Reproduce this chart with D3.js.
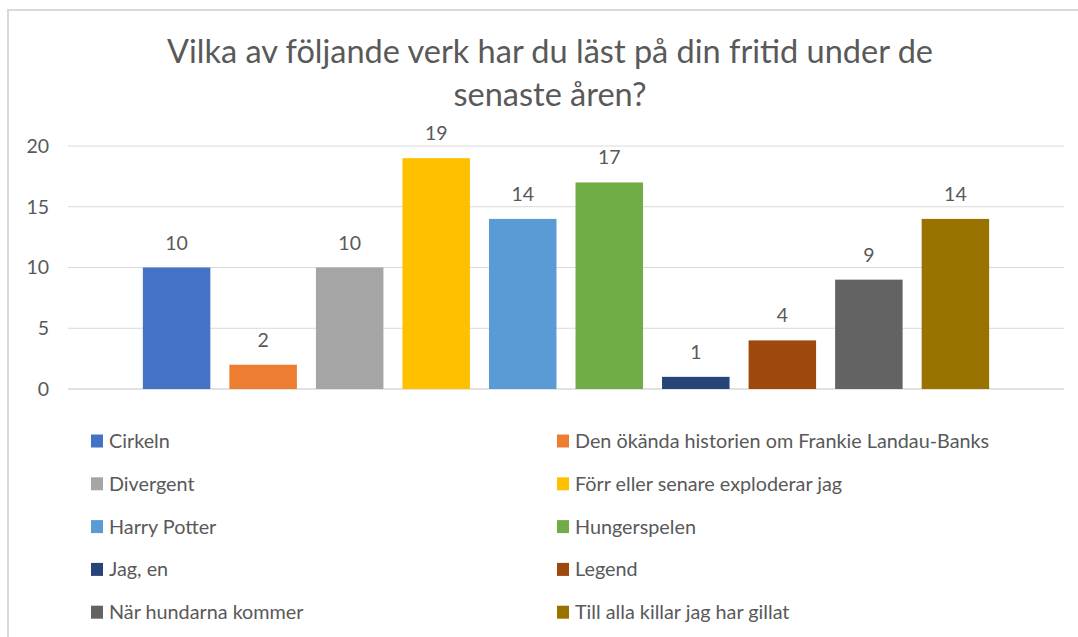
<!doctype html>
<html>
<head>
<meta charset="utf-8">
<script src="https://cdnjs.cloudflare.com/ajax/libs/d3/7.8.5/d3.min.js"></script>
<style>
    body { margin: 0; background: white; }
    svg text { font-family: Lato, "Open Sans", sans-serif; fill: #595959; }
</style>
</head>
<body>
<svg id="chart" width="1078" height="637"></svg>
<script>
// data
var titleLines = ["Vilka av följande verk har du läst på din fritid under de", "senaste åren?"];
var books = ["Cirkeln", "Den ökända historien om Frankie Landau-Banks", "Divergent",
             "Förr eller senare exploderar jag", "Harry Potter", "Hungerspelen",
             "Jag, en", "Legend", "När hundarna kommer", "Till alla killar jag har gillat"];
var counts = [10, 2, 10, 19, 14, 17, 1, 4, 9, 14];
var colors = ["#4472C4", "#ED7D31", "#A5A5A5", "#FFC000", "#5B9BD5",
              "#70AD47", "#264478", "#9E480E", "#636363", "#997300"];
var yTicks = [0, 5, 10, 15, 20];

var svg = d3.select('#chart');

// outer frame of the chart area
svg.append('rect')
    .attr('x', 8).attr('y', 10)
    .attr('width', 1100).attr('height', 700)
    .attr('fill', 'white')
    .attr('stroke', '#d9d9d9')
    .attr('stroke-width', 2);

// title
svg.append('g').selectAll('text')
    .data(titleLines)
    .enter().append('text')
    .attr('x', 550)
    .attr('y', (d, i) => 63 + i * 43)
    .attr('text-anchor', 'middle')
    .style('font-size', '32.5px')
    .text(d => d);

var plotLeft = 68, plotRight = 1064;

var y = d3.scaleLinear().domain([0, 20]).range([389, 146]);

var x = d3.scaleBand()
    .domain(books)
    .range([plotLeft, plotRight])
    .paddingInner(0.22)
    .paddingOuter(0.865);

// gridlines
svg.append('g')
    .selectAll('line')
    .data(yTicks)
    .enter().append('line')
    .attr('x1', plotLeft).attr('x2', plotRight)
    .attr('y1', d => y(d)).attr('y2', d => y(d))
    .attr('stroke', '#d9d9d9')
    .attr('stroke-width', d => d === 0 ? 1.5 : 1);

// y axis labels
var yAxis = d3.axisLeft(y).tickValues(yTicks).tickSize(0).tickPadding(0);
var yg = svg.append('g')
    .attr('transform', 'translate(49,0)')
    .call(yAxis);
yg.select('.domain').remove();
yg.selectAll('text')
    .style('font-size', '19.5px')
    .style('font-family', 'Lato, sans-serif')
    .attr('fill', '#595959');

// bars
svg.append('g')
    .selectAll('rect')
    .data(books)
    .enter().append('rect')
    .attr('x', d => x(d))
    .attr('y', (d, i) => y(counts[i]))
    .attr('width', x.bandwidth())
    .attr('height', (d, i) => y(0) - y(counts[i]))
    .attr('fill', (d, i) => colors[i]);

// value labels
svg.append('g')
    .selectAll('text')
    .data(books)
    .enter().append('text')
    .attr('x', d => x(d) + x.bandwidth() / 2)
    .attr('y', (d, i) => y(counts[i]) - 18)
    .attr('text-anchor', 'middle')
    .style('font-size', '19.5px')
    .text((d, i) => counts[i]);

// legend, two columns
var legend = svg.append('g').attr('class', 'legend');
var item = legend.selectAll('g')
    .data(books)
    .enter().append('g')
    .attr('transform', (d, i) => 'translate(' + (i % 2 === 0 ? 91 : 557) + ',' + (441 + Math.floor(i / 2) * 42.8) + ')');

item.append('rect')
    .attr('x', 0).attr('y', -6.5)
    .attr('width', 12).attr('height', 13)
    .attr('fill', (d, i) => colors[i]);

item.append('text')
    .attr('x', 18)
    .attr('y', 7)
    .style('font-size', '19.8px')
    .text(d => d);
</script>
</body>
</html>
